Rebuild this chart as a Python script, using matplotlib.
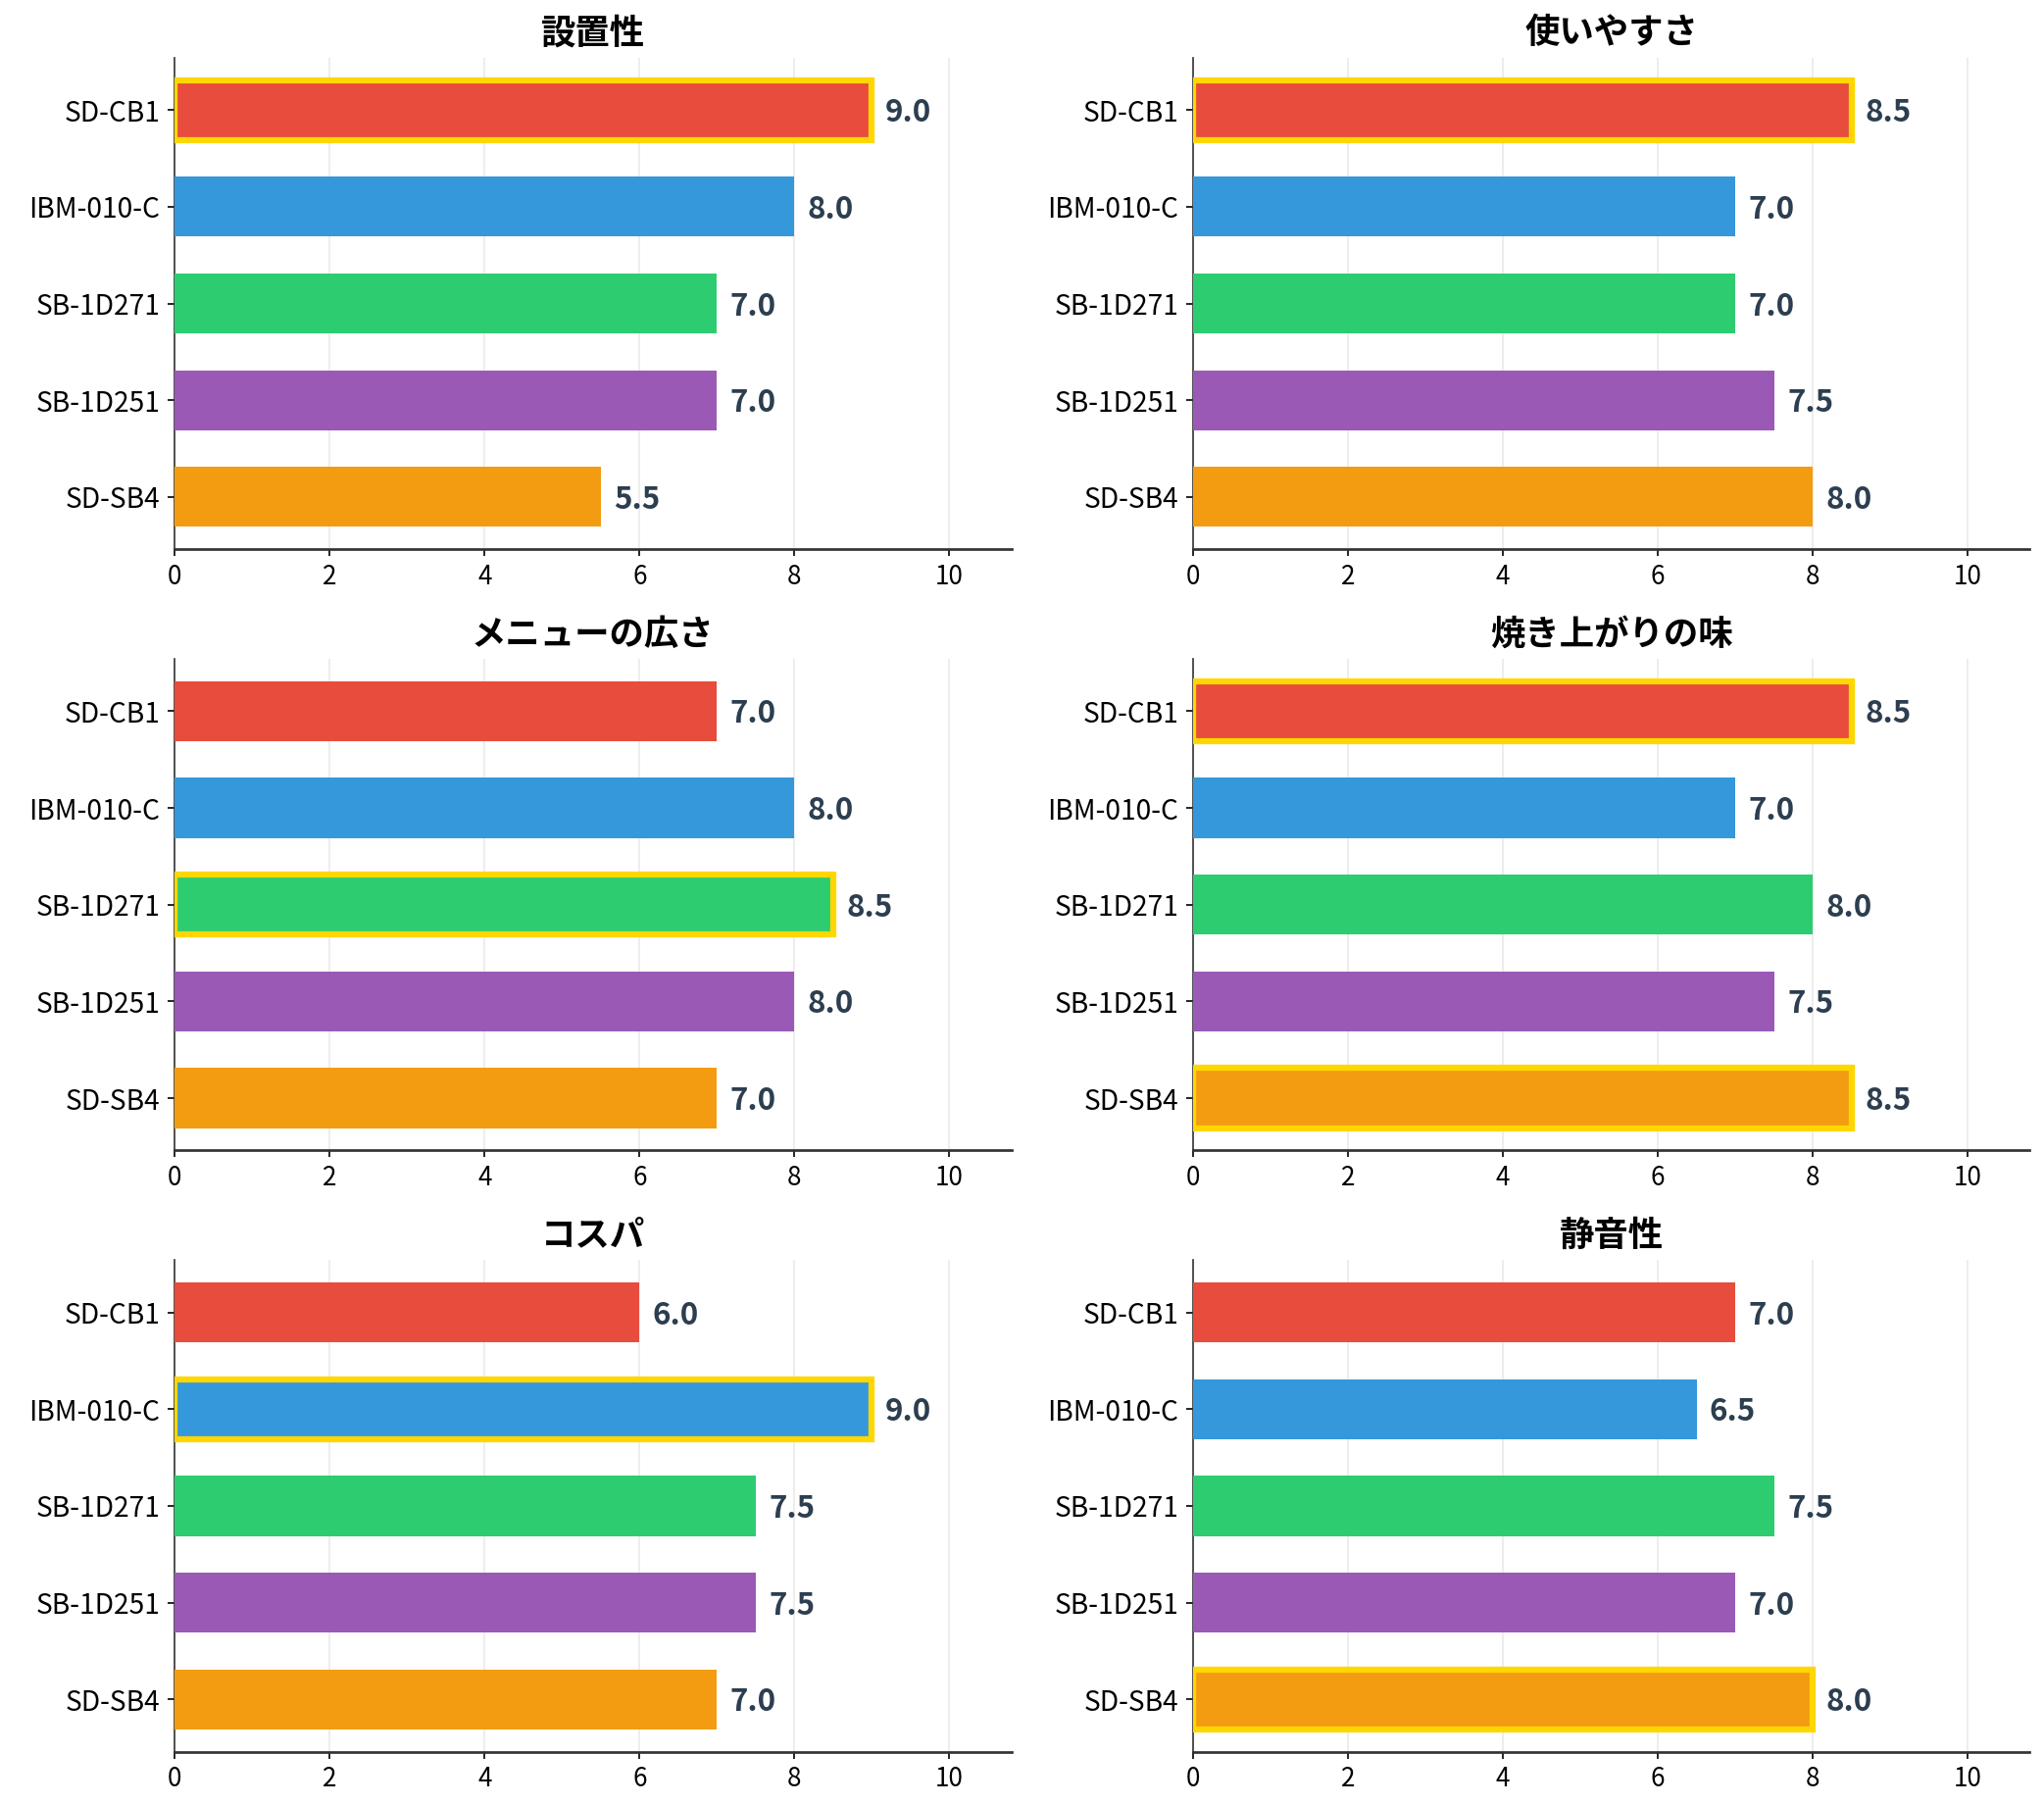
import numpy as np
import matplotlib
matplotlib.use('Agg')
import matplotlib.pyplot as plt

plt.rcParams['font.family'] = ['Noto Sans CJK JP', 'DejaVu Sans']

models = ['SD-CB1', 'IBM-010-C', 'SB-1D271', 'SB-1D251', 'SD-SB4']
colors = ['#e74c3c', '#3498db', '#2ecc71', '#9b59b6', '#f39c12']

categories = ['設置性', '使いやすさ', 'メニューの広さ', '焼き上がりの味', 'コスパ', '静音性']
setchi      = [9.0, 8.0, 7.0, 7.0, 5.5]
tsukai      = [8.5, 7.0, 7.0, 7.5, 8.0]
menu        = [7.0, 8.0, 8.5, 8.0, 7.0]
aji         = [8.5, 7.0, 8.0, 7.5, 8.5]
kosupa      = [6.0, 9.0, 7.5, 7.5, 7.0]
seion       = [7.0, 6.5, 7.5, 7.0, 8.0]
scores = [setchi, tsukai, menu, aji, kosupa, seion]

fig, axes = plt.subplots(3, 2, figsize=(13.9, 12.267), dpi=150)
fig.subplots_adjust(left=0.0854, right=0.993, top=0.968, bottom=0.029,
                    wspace=0.217, hspace=0.223)

y = np.arange(len(models))
for ax, cat, vals in zip(axes.flat, categories, scores):
    vmax = max(vals)
    bars = ax.barh(y, vals, height=0.62, color=colors, zorder=3)
    for bar, v in zip(bars, vals):
        if v == vmax:
            bar.set_edgecolor('#FFD700')
            bar.set_linewidth(3)
        ax.text(v + 0.17, bar.get_y() + bar.get_height() / 2 + 0.03, f'{v:.1f}',
                va='center', ha='left', fontsize=15, fontweight='bold',
                color='#2c3e50')
    ax.set_yticks(y)
    ax.set_yticklabels(models, fontsize=13.5)
    ax.invert_yaxis()
    ax.set_xlim(0, 10.8)
    ax.set_xticks([0, 2, 4, 6, 8, 10])
    ax.tick_params(axis='x', labelsize=12.5)
    ax.set_title(cat, fontsize=17, fontweight='bold', pad=7)
    ax.grid(axis='x', color='#dddddd', alpha=0.6, linewidth=0.8, zorder=0)
    ax.spines['top'].set_visible(False)
    ax.spines['right'].set_visible(False)
    ax.spines['left'].set_color('#333333')
    ax.spines['bottom'].set_color('#333333')
    ax.spines['bottom'].set_linewidth(1.3)

plt.savefig('out.png', dpi=150)
